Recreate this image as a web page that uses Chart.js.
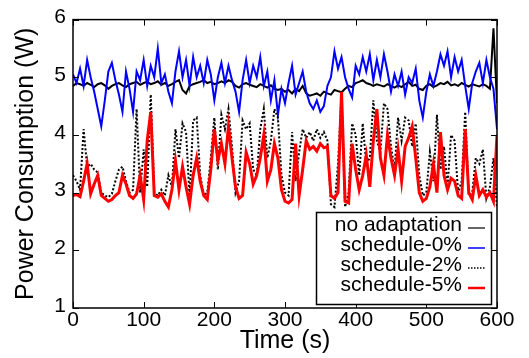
<!DOCTYPE html>
<html>
<head>
<meta charset="utf-8">
<script src="https://cdn.jsdelivr.net/npm/chart.js@4"></script>
<style>
  html, body { margin: 0; padding: 0; background: #fff; }
  #wrap { width: 529px; height: 358px; }
</style>
</head>
<body>
<div id="wrap"><canvas id="powerChart"></canvas></div>
<script>
// power traces, one sample every 5 s from 0 to 600 s
const sampleStep = 5;

const noAdaptation = [
  4.85, 4.9, 4.88, 4.85, 4.9, 4.87, 4.83, 4.88, 4.9, 4.86,
  4.8, 4.85, 4.88, 4.9, 4.86, 4.83, 4.88, 4.9, 4.92, 4.87,
  4.9, 4.92, 4.88, 4.9, 4.93, 4.87, 4.9, 4.85, 4.88, 4.92,
  4.95, 4.78, 4.72, 4.85, 4.88, 4.9, 4.92, 4.95, 4.9, 4.92,
  4.88, 4.9, 4.93, 4.9, 4.95, 4.92, 4.85, 4.82, 4.88, 4.9,
  4.87, 4.85, 4.83, 4.88, 4.85, 4.82, 4.86, 4.8, 4.78, 4.8,
  4.75, 4.78, 4.72, 4.8, 4.76, 4.85, 4.72, 4.68, 4.7, 4.72,
  4.68, 4.75, 4.72, 4.7, 4.78, 4.76, 4.74, 4.8, 4.85, 4.83,
  4.9, 4.92, 4.95, 4.9, 4.88, 4.85, 4.88, 4.86, 4.84, 4.88,
  4.85, 4.82, 4.86, 4.83, 4.88, 4.92, 4.85, 4.87, 4.8, 4.78,
  4.85, 4.88, 4.83, 4.86, 4.9, 4.88, 4.92, 4.86, 4.88, 4.85,
  4.9, 4.87, 4.84, 4.88, 4.86, 4.84, 4.88, 4.85, 4.8, 5.85,
  4.55
];

const schedule0 = [
  5.05, 4.9, 5.15, 4.85, 5.3, 5.0, 4.75, 4.45, 4.15, 4.6,
  5.1, 5.25, 4.95, 4.7, 4.4, 5.1, 4.8, 4.4, 5.1, 4.95,
  5.3, 4.85, 5.2, 5.0, 5.5, 4.9, 5.05, 4.75, 4.55, 5.1,
  5.45, 5.0, 5.3, 4.85, 5.35, 5.0, 5.2, 4.9, 5.3, 5.05,
  4.6, 5.0, 5.25, 4.9, 5.2, 4.95, 4.75, 4.4, 4.95, 5.3,
  4.9, 5.2, 5.0, 5.35, 4.85, 5.1, 4.6, 4.95, 4.35, 4.8,
  4.55, 4.9, 5.2, 4.7, 4.9, 5.1, 4.75, 4.55, 4.45, 4.6,
  4.4, 4.5, 4.85, 5.0, 5.45, 5.15, 5.35, 5.0, 4.8, 4.65,
  5.2, 5.05, 5.35, 5.1, 5.4, 4.95, 5.3, 5.0, 5.4, 5.1,
  4.75, 5.05, 4.85, 5.1, 4.7, 5.0, 4.9, 5.15, 4.6, 4.3,
  4.75, 5.05, 4.85, 5.1, 5.4, 5.2, 5.45, 5.0, 5.35, 5.1,
  5.3, 4.85, 4.45, 4.9, 5.1, 5.25, 4.9, 5.3, 5.0, 4.8,
  4.1
];

const schedule2 = [
  3.3, 3.2, 3.05, 4.1, 3.45, 3.5, 3.4, 3.35, 3.0, 2.95,
  2.92, 2.98, 3.2, 3.4, 3.45, 3.2, 3.0, 3.05, 4.45, 3.0,
  3.75, 3.1, 4.7, 3.0, 2.95, 3.05, 2.95, 3.3, 3.1, 4.1,
  3.6, 4.2, 4.05, 2.9, 4.25, 4.3, 3.3, 2.95, 3.0, 3.6,
  4.3, 3.4, 4.35, 4.1, 4.45, 3.8, 3.0, 3.2, 4.25, 4.1,
  4.2, 3.4, 3.3, 4.1, 4.45, 3.6, 3.9, 4.45, 4.3, 3.3,
  3.0, 2.95, 4.05, 3.2, 3.7, 4.1, 3.95, 4.05, 3.9, 4.1,
  3.95, 4.05, 3.9, 2.8, 2.75, 3.5, 4.7, 2.75, 3.0, 4.2,
  4.0, 3.3, 4.2, 3.5, 3.6, 4.6, 3.9, 3.7, 4.55, 4.45,
  3.8, 3.4, 4.3, 3.9, 4.3, 4.25, 3.8, 4.2, 3.3, 2.95,
  3.0, 3.7, 3.2, 4.35, 3.4, 3.8, 3.1, 4.0, 3.9, 3.0,
  3.2, 4.4, 2.95, 3.0, 3.6, 3.5, 3.75, 2.9, 3.1, 3.6,
  2.75
];

const schedule5 = [
  2.95, 2.97, 2.93, 3.2, 3.5, 2.98, 3.15, 3.3, 2.95, 2.9,
  2.85, 2.88, 2.95, 3.0, 3.3, 3.15, 2.95, 2.9, 2.98, 3.3,
  2.88, 3.9, 4.4, 2.95, 2.92, 2.98, 2.85, 2.75, 3.05, 3.55,
  3.05, 3.45, 3.1, 2.8, 3.3, 3.6, 3.2, 2.95, 2.88, 3.4,
  4.1, 3.55, 3.85, 3.5, 4.15, 3.6, 3.1, 2.9, 2.95, 3.7,
  3.5, 3.15, 3.3, 3.6, 4.0, 3.2, 3.4, 3.85, 3.6, 3.05,
  2.85, 2.82, 2.88, 3.85, 2.95, 3.4, 3.9, 3.75, 3.8, 3.72,
  3.85, 3.78, 3.8, 2.95, 2.9, 3.0, 4.75, 2.85, 2.82, 3.85,
  3.4, 3.05, 3.3, 3.65, 3.1, 3.9, 4.45, 3.6, 3.3, 4.0,
  3.6, 3.3, 3.75, 3.2, 3.8, 3.95, 4.15, 3.6, 3.0, 2.85,
  2.9, 3.1, 3.5, 3.0, 4.05, 3.3, 3.05, 3.25, 3.2, 2.95,
  2.9, 4.1, 3.0, 2.88, 3.3, 2.95, 3.05, 2.92, 3.0, 2.85,
  4.0
];

const seriesLabels = ["no adaptation", "schedule-0%", "schedule-2%", "schedule-5%"];
const xTicks = [0, 100, 200, 300, 400, 500, 600];
const yTicks = [1, 2, 3, 4, 5, 6];

const FONT = "'Liberation Sans', Arial, Helvetica, sans-serif";

function toPoints(values) {
  return values.map((v, i) => ({ x: i * sampleStep, y: v }));
}

// gnuplot-like frame, inward ticks, axis titles and boxed key
const framePlugin = {
  id: "frame",
  afterDraw(chart) {
    const c = chart.ctx;
    const a = chart.chartArea;
    const xs = chart.scales.x;
    const ys = chart.scales.y;
    c.save();
    c.strokeStyle = "#000";
    c.lineWidth = 1.5;
    c.strokeRect(a.left, a.top, a.right - a.left, a.bottom - a.top);

    c.lineWidth = 1;
    c.beginPath();
    xTicks.forEach(t => {
      const px = Math.round(xs.getPixelForValue(t)) + 0.5;
      c.moveTo(px, a.bottom); c.lineTo(px, a.bottom - 6);
      c.moveTo(px, a.top); c.lineTo(px, a.top + 6);
    });
    yTicks.forEach(t => {
      const py = Math.round(ys.getPixelForValue(t)) + 0.5;
      c.moveTo(a.left, py); c.lineTo(a.left + 6, py);
      c.moveTo(a.right, py); c.lineTo(a.right - 6, py);
    });
    c.stroke();

    // axis titles
    c.fillStyle = "#000";
    c.font = "25px " + FONT;
    c.textAlign = "center";
    c.textBaseline = "middle";
    c.fillText("Time (s)", (a.left + a.right) / 2, 341);
    c.save();
    c.translate(26, (a.top + a.bottom) / 2);
    c.rotate(-Math.PI / 2);
    c.fillText("Power Consumption (W)", 0, 0);
    c.restore();

    // key
    c.fillStyle = "#fff";
    c.fillRect(316, 212, 175, 92);
    c.lineWidth = 1.5;
    c.strokeRect(316.5, 212.5, 175, 92);
    c.font = "21px " + FONT;
    c.textAlign = "right";
    c.fillStyle = "#000";
    const rows = [225, 245, 265, 285];
    const keyWidths = [1.2, 1.5, 1.5, 2.5];
    chart.data.datasets.forEach((ds, i) => {
      const y = rows[i];
      c.fillText(ds.label, 462, y);
      c.strokeStyle = ds.borderColor;
      c.lineWidth = keyWidths[i];
      c.setLineDash(ds.borderDash ? [1.5, 1.5] : []);
      c.beginPath();
      c.moveTo(468, y + 3);
      c.lineTo(485, y + 3);
      c.stroke();
      c.setLineDash([]);
    });
    c.restore();
  }
};

new Chart(document.getElementById("powerChart"), {
  type: "line",
  data: {
    datasets: [
      { label: seriesLabels[0], data: toPoints(noAdaptation), borderColor: "#000000", borderWidth: 2, order: 3 },
      { label: seriesLabels[1], data: toPoints(schedule0), borderColor: "#0000ff", borderWidth: 2, order: 2 },
      { label: seriesLabels[2], data: toPoints(schedule2), borderColor: "#000000", borderWidth: 2, borderDash: [2, 2], order: 1 },
      { label: seriesLabels[3], data: toPoints(schedule5), borderColor: "#ff0000", borderWidth: 3, order: 0 }
    ]
  },
  options: {
    responsive: true,
    maintainAspectRatio: false,
    animation: false,
    devicePixelRatio: 1,
    layout: { padding: { top: 18, right: 32, left: 0, bottom: 0 } },
    elements: { point: { radius: 0 }, line: { tension: 0, fill: false } },
    plugins: { legend: { display: false }, tooltip: { enabled: false } },
    scales: {
      x: {
        type: "linear",
        min: 0,
        max: 600,
        afterFit: s => { s.height = 50; },
        afterBuildTicks: s => { s.ticks = xTicks.map(v => ({ value: v })); },
        grid: { display: false, drawTicks: false },
        border: { display: false },
        ticks: { color: "#000", font: { family: FONT, size: 21 }, padding: 0, maxRotation: 0 }
      },
      y: {
        min: 1,
        max: 6,
        afterFit: s => { s.width = 73; },
        afterBuildTicks: s => { s.ticks = yTicks.map(v => ({ value: v })); },
        grid: { display: false, drawTicks: false },
        border: { display: false },
        ticks: { color: "#000", font: { family: FONT, size: 21 }, padding: 7, labelOffset: -2 }
      }
    }
  },
  plugins: [framePlugin]
});
</script>
</body>
</html>
